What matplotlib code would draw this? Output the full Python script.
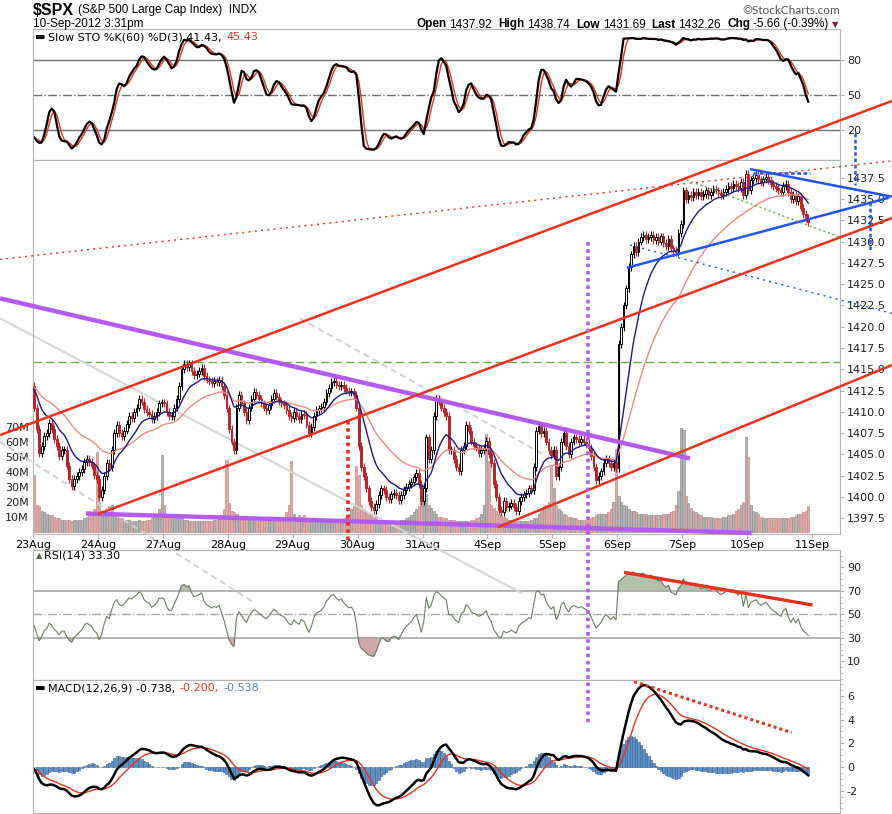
import matplotlib
matplotlib.use("Agg")
import matplotlib.pyplot as plt
import numpy as np
import pandas as pd

W, H = 892, 814

day_labels = ["23Aug", "24Aug", "27Aug", "28Aug", "29Aug", "30Aug", "31Aug",
              "4Sep", "5Sep", "6Sep", "7Sep", "10Sep", "11Sep"]
prior_close = 1413.0

# 15 minute closes, one list per session
close_23aug = [1410.5, 1408.0, 1405.2, 1406.0, 1407.2, 1407.5, 1408.7, 1408.0, 1406.8, 1406.0, 1404.8, 1405.5, 1405.5,
               1403.7, 1402.1, 1401.3, 1402.1, 1402.5, 1402.9, 1403.3, 1404.1, 1404.5, 1404.1, 1403.7, 1402.6, 1402.1]
close_24aug = [1400.0, 1400.8, 1402.5, 1404.0, 1403.5, 1405.5, 1407.5, 1408.5, 1407.5, 1407.2, 1407.8, 1408.6, 1409.5,
               1409.3, 1410.0, 1410.5, 1411.5, 1411.2, 1410.3, 1410.0, 1409.8, 1409.2, 1409.5, 1410.0, 1411.0, 1411.1]
close_27aug = [1411.0, 1410.0, 1409.5, 1409.5, 1410.5, 1411.5, 1413.0, 1415.0, 1415.6, 1415.3, 1415.6, 1414.8, 1414.3,
               1414.5, 1414.8, 1415.2, 1414.2, 1413.8, 1413.6, 1413.4, 1413.6, 1413.5, 1413.8, 1413.0, 1412.0, 1410.4]
close_28aug = [1408.0, 1406.5, 1405.5, 1410.5, 1412.0, 1411.0, 1410.0, 1409.0, 1410.5, 1411.5, 1412.3, 1412.0, 1411.5,
               1411.0, 1410.5, 1410.2, 1410.8, 1411.5, 1412.2, 1411.8, 1411.2, 1411.0, 1410.8, 1410.2, 1409.5, 1409.3]
close_29aug = [1410.0, 1409.5, 1409.2, 1409.8, 1409.6, 1408.5, 1407.5, 1408.2, 1409.5, 1410.2, 1410.4, 1410.6, 1411.2,
               1412.2, 1412.8, 1413.5, 1413.6, 1413.2, 1413.0, 1413.2, 1412.8, 1412.5, 1412.3, 1412.4, 1412.0, 1410.5]
close_30aug = [1406.0, 1403.5, 1402.5, 1401.0, 1399.5, 1398.8, 1398.5, 1399.2, 1400.2, 1401.0, 1400.8, 1400.0, 1399.8,
               1400.3, 1400.5, 1400.2, 1399.6, 1400.2, 1400.8, 1401.2, 1401.5, 1401.8, 1402.3, 1402.8, 1401.5, 1399.5]
close_31aug = [1401.0, 1407.0, 1404.5, 1405.5, 1409.5, 1411.5, 1411.2, 1410.5, 1410.0, 1409.5, 1405.5, 1405.5, 1404.5,
               1403.5, 1403.0, 1405.5, 1406.0, 1408.5, 1407.8, 1406.5, 1406.0, 1405.8, 1405.2, 1405.5, 1405.8, 1406.6]
close_4sep = [1405.0, 1404.0, 1401.5, 1400.0, 1398.5, 1398.2, 1399.5, 1398.8, 1399.0, 1399.3, 1398.8, 1398.3, 1399.5,
              1400.0, 1400.3, 1400.5, 1401.0, 1400.8, 1403.5, 1407.8, 1408.3, 1407.5, 1407.8, 1406.5, 1405.5, 1404.9]
close_5sep = [1405.5, 1402.5, 1403.5, 1406.5, 1407.5, 1406.0, 1405.0, 1406.5, 1407.0, 1406.8, 1406.5, 1406.8, 1406.5,
              1406.2, 1405.8, 1404.8, 1403.5, 1402.0, 1402.5, 1403.0, 1404.0, 1404.5, 1404.0, 1403.5, 1404.0, 1403.4]
close_6sep = [1418.0, 1420.0, 1422.5, 1424.5, 1427.0, 1428.5, 1429.5, 1428.8, 1430.0, 1430.5, 1430.8, 1430.3, 1430.5,
              1430.8, 1430.2, 1430.5, 1430.0, 1430.6, 1429.8, 1429.5, 1430.3, 1429.2, 1429.0, 1428.8, 1431.0, 1432.1]
close_7sep = [1436.0, 1435.0, 1435.5, 1435.2, 1435.8, 1435.5, 1435.8, 1435.3, 1435.6, 1436.0, 1435.5, 1435.8, 1436.2,
              1436.0, 1435.7, 1435.5, 1435.8, 1436.2, 1436.5, 1436.3, 1436.8, 1436.5, 1436.3, 1437.0, 1435.5, 1437.9]
close_10sep = [1436.0, 1437.2, 1437.5, 1437.8, 1437.3, 1437.0, 1437.3, 1437.6, 1437.2, 1436.8, 1436.5, 1436.3, 1436.0,
               1435.8, 1436.5, 1436.8, 1435.8, 1435.0, 1435.5, 1434.8, 1435.3, 1434.0, 1433.2, 1432.8, 1432.26]

# volume per bar, millions
vol_23aug = [38, 18, 17, 14, 13, 12, 11, 11, 10, 9, 9, 8, 8, 8, 8, 7, 8, 8, 8, 8, 9, 10, 11, 13, 15, 53]
vol_24aug = [20, 14, 13, 12, 17, 18, 12, 10, 9, 9, 8, 8, 8, 7, 7, 7, 8, 7, 7, 8, 8, 9, 10, 12, 15, 51]
vol_27aug = [18, 11, 10, 10, 12, 10, 9, 9, 8, 8, 7, 7, 7, 7, 7, 7, 7, 7, 7, 7, 8, 8, 9, 11, 15, 48]
vol_28aug = [19, 14, 13, 12, 10, 9, 9, 9, 8, 8, 8, 7, 7, 7, 7, 7, 7, 7, 7, 8, 8, 9, 10, 13, 18, 47]
vol_29aug = [12, 10, 11, 10, 11, 9, 9, 8, 8, 7, 7, 7, 7, 7, 7, 7, 7, 7, 8, 8, 9, 10, 12, 15, 17, 44]
vol_30aug = [38, 18, 15, 14, 12, 11, 10, 9, 8, 8, 7, 7, 7, 7, 7, 7, 7, 8, 8, 9, 10, 11, 13, 15, 17, 22]
vol_31aug = [27, 25, 18, 16, 14, 12, 10, 10, 9, 9, 8, 8, 8, 7, 7, 7, 7, 7, 7, 8, 8, 9, 10, 12, 18, 65]
vol_4sep = [47, 18, 16, 14, 12, 11, 10, 9, 8, 8, 7, 7, 7, 7, 7, 7, 7, 8, 9, 9, 12, 15, 17, 18, 20, 44]
vol_5sep = [29, 18, 15, 14, 12, 11, 10, 10, 9, 9, 8, 8, 8, 8, 8, 9, 10, 11, 12, 12, 12, 12, 13, 15, 20, 55]
vol_6sep = [24, 20, 18, 17, 15, 14, 14, 13, 12, 12, 12, 12, 11, 11, 11, 11, 11, 11, 12, 12, 12, 13, 14, 18, 27, 69]
vol_7sep = [68, 24, 19, 16, 14, 13, 12, 11, 10, 10, 10, 10, 9, 9, 9, 9, 10, 10, 11, 11, 12, 14, 15, 18, 20, 63]
vol_10sep = [50, 18, 14, 13, 12, 10, 9, 9, 9, 9, 9, 9, 9, 9, 9, 9, 9, 10, 10, 11, 12, 12, 13, 14, 17]

closes = np.concatenate([close_23aug, close_24aug, close_27aug, close_28aug, close_29aug, close_30aug,
                         close_31aug, close_4sep, close_5sep, close_6sep, close_7sep, close_10sep])
volume = np.concatenate([vol_23aug, vol_24aug, vol_27aug, vol_28aug, vol_29aug, vol_30aug,
                         vol_31aug, vol_4sep, vol_5sep, vol_6sep, vol_7sep, vol_10sep])
n = len(closes)
x = np.arange(n)
opens = np.r_[prior_close, closes[:-1]]
wick = 0.45
highs = np.maximum(opens, closes) + wick
lows = np.minimum(opens, closes) - wick

# hand-drawn annotation lines, (bar, price) end points
purple_lines = [((-13.7, 1423.33), (262.6, 1404.53)), ((20.7, 1398.06), (287.3, 1395.78))]
red_channel = [((-13.7, 1407.27), (343.5, 1446.51)), ((25.5, 1398.0), (343.5, 1432.76)),
               ((185.7, 1396.45), (343.5, 1415.49))]
red_dotted = ((-13.7, 1427.91), (346.7, 1439.58))
red_vertical = ((125.8, 1408.9), (125.8, 1394.9))
purple_vertical = ((221.9, 1429.9), (221.9, 1373.4))
gray_solid = ((-13.7, 1420.98), (195.3, 1388.7))
gray_dashed = [((-13.7, 1406.48), (87.2, 1387.76)), ((106.4, 1420.98), (204.5, 1404.9))]
blue_solid = [((237.3, 1426.92), (342.3, 1435.15)), ((286.6, 1438.52), (343.5, 1435.27))]
blue_dotted = ((238.6, 1429.59), (343.5, 1421.57))
blue_dashed = [((288.0, 1438.02), (310.7, 1438.02)), ((328.7, 1442.75), (328.7, 1436.64)),
               ((334.7, 1434.68), (334.7, 1428.8))]
green_dotted = ((261.3, 1437.23), (324.0, 1430.38))
green_level = 1415.9
rsi_trend = ((236.2, 85.7), (311.7, 57.9))
macd_trend = ((240.2, 7.21), (303.3, 2.91))

# indicators
seeded = pd.Series(np.r_[prior_close, closes])


def ema(span):
    return seeded.ewm(span=span, adjust=False).mean().values[1:]


ema13 = ema(13)
ema34 = ema(34)
macd = ema(12) - ema(26)
signal = pd.Series(macd).ewm(span=9, adjust=False).mean().values
hist = macd - signal

avg_gain = avg_loss = 0.4
rsi = []
for d in np.diff(seeded.values):
    avg_gain = (avg_gain * 13 + max(d, 0)) / 14
    avg_loss = (avg_loss * 13 + max(-d, 0)) / 14
    rsi.append(100 - 100 / (1 + avg_gain / avg_loss))
rsi = np.array(rsi)

hh = pd.Series(highs).rolling(60, min_periods=1).max()
ll = pd.Series(lows).rolling(60, min_periods=1).min()
fast_k = 100 * (pd.Series(closes) - ll) / (hh - ll)
slow_k = fast_k.rolling(3, min_periods=1).mean()
slow_d = slow_k.rolling(3, min_periods=1).mean()

# figure
plt.rcParams['font.family'] = ['DejaVu Sans']
fig = plt.figure(figsize=(W / 100, H / 100), dpi=100)
XLIM = (-0.5, 322.7)
EDGE = '#b4b4b4'


def px_axes(top, bottom):
    return fig.add_axes([33 / W, 1 - bottom / H, 807 / W, (bottom - top) / H])


def style(a, ticks, labels, ylim):
    a.set_xlim(*XLIM)
    a.set_ylim(*ylim)
    for s in a.spines.values():
        s.set_color(EDGE)
    a.yaxis.tick_right()
    a.set_yticks(ticks, labels)
    a.tick_params(axis='y', direction='out', length=3, color=EDGE, labelcolor='#222222',
                  labelsize=8, pad=2)
    a.set_xticks([])


ax_sto = px_axes(29.3, 160)
ax_vol = px_axes(160, 534.3)
ax = px_axes(160, 534.3)
ax_rsi = px_axes(550, 680)
ax_macd = px_axes(680, 812.7)
ax_vol.set_zorder(4)
ax.set_zorder(5)
ax.set_facecolor('none')

# stochastics panel
style(ax_sto, [20, 50, 80], ['20', '50', '80'], (-5.97, 106.06))
ax_sto.axhline(80, color='#707070', lw=1)
ax_sto.axhline(20, color='#707070', lw=1)
ax_sto.axhline(50, color='#707070', lw=1, ls='-.')
ax_sto.plot(x, slow_d, color='#e8321e', lw=1.0)
ax_sto.plot(x, slow_k, color='black', lw=1.6)

# volume
vol_up = np.r_[closes[0] >= prior_close, closes[1:] >= closes[:-1]]
ax_vol.bar(x, volume, width=0.85, color=np.where(vol_up, '#b4b4b4', '#deaaaa'),
           edgecolor=np.where(vol_up, '#8f8f8f', '#c88a8a'), lw=0.5)
ax_vol.set_xlim(*XLIM)
ax_vol.set_ylim(-1.7, 247.8)
ax_vol.set_xticks([])
ax_vol.set_yticks(np.arange(10, 80, 10), [f'{v}M' for v in range(10, 80, 10)])
ax_vol.tick_params(axis='y', length=0, labelsize=8, labelcolor='#222222', pad=3)
for s in ax_vol.spines.values():
    s.set_visible(False)

# price panel
price_ticks = np.arange(1397.5, 1438.0, 2.5)
style(ax, price_ticks, [f'{p:.1f}' for p in price_ticks], (1395.62, 1439.58))
ax.set_xticks(26 * np.arange(13) - 0.5, day_labels)
ax.tick_params(axis='x', direction='out', length=3, color=EDGE, labelsize=8, pad=1)
ax.axhline(green_level, color='#6aaa45', lw=1, dashes=(6, 3))

up = closes >= opens
ax.vlines(x, lows, highs, color=np.where(up, 'black', '#b8262a'), lw=0.8, zorder=3)
ax.bar(x, np.maximum(np.abs(closes - opens), 0.08), bottom=np.minimum(opens, closes), width=0.7,
       color=np.where(up, 'white', '#b8262a'), edgecolor=np.where(up, 'black', '#b8262a'),
       lw=0.7, zorder=4)
ax.plot(x, ema34, color='#ec8a80', lw=1.0, zorder=5)
ax.plot(x, ema13, color='#1a1a8a', lw=1.0, zorder=5)


def seg(a, pts, **kw):
    (x0, y0), (x1, y1) = pts
    a.plot([x0, x1], [y0, y1], clip_on=False, solid_capstyle='butt', **kw)


seg(ax, gray_solid, color='#d6d6d6', lw=1.5, zorder=2)
for g in gray_dashed:
    seg(ax, g, color='#d2d2d2', lw=1.5, dashes=(3, 2), zorder=2)
for pl in purple_lines:
    seg(ax, pl, color='#b45af2', lw=3.2, zorder=6)
for rl in red_channel:
    seg(ax, rl, color='#e8321e', lw=1.8, zorder=6)
seg(ax, red_dotted, color='#e8321e', lw=1.0, ls=(0, (1.5, 3)), zorder=6)
seg(ax, red_vertical, color='#e8321e', lw=2.6, ls=(0, (1, 1)), zorder=6)
seg(ax, purple_vertical, color='#b45af2', lw=2.6, ls=(0, (1, 1)), zorder=6)
for bl in blue_solid:
    seg(ax, bl, color='#2255ee', lw=1.8, zorder=6)
seg(ax, blue_dotted, color='#2255ee', lw=1.0, ls=(0, (1.5, 3)), zorder=6)
for bd in blue_dashed:
    seg(ax, bd, color='#2255ee', lw=1.8, ls=(0, (1.5, 1)), zorder=6)
seg(ax, green_dotted, color='#6aaa45', lw=1.0, ls=(0, (1.5, 2)), zorder=6)

# RSI panel
style(ax_rsi, [10, 30, 50, 70, 90], ['10', '30', '50', '70', '90'], (-5.9, 104.7))
ax_rsi.axhline(70, color='#a8a8a8', lw=1.2)
ax_rsi.axhline(30, color='#a8a8a8', lw=1.2)
ax_rsi.axhline(50, color='#a8a8a8', lw=1, ls='-.')
ax_rsi.fill_between(x, rsi, 70, where=rsi > 70, interpolate=True, color='#b4c2ac')
ax_rsi.fill_between(x, rsi, 30, where=rsi < 30, interpolate=True, color='#cfa9a9')
ax_rsi.plot(x, rsi, color='#6b7f63', lw=0.8)
seg(ax_rsi, rsi_trend, color='#e8321e', lw=2.4)

# MACD panel
style(ax_macd, [-2, 0, 2, 4, 6], ['-2', '0', '2', '4', '6'], (-3.86, 7.35))
ax_macd.bar(x, hist, width=0.85, color='#5f92c8', edgecolor='#2f5f94', lw=0.4)
ax_macd.plot(x, signal, color='#e8321e', lw=1.0)
ax_macd.plot(x, macd, color='black', lw=1.8)
seg(ax_macd, macd_trend, color='#e8321e', lw=2.2, ls=(0, (1, 1)))
for a in (ax_rsi, ax_macd):
    a.minorticks_on()
    a.tick_params(axis='y', which='minor', direction='out', length=2, color=EDGE)
    a.tick_params(axis='x', which='both', bottom=False, labelbottom=False)

# texts
renderer = fig.canvas.get_renderer()


def text_run(x_px, y_px, parts, align='left'):
    items = []
    for s, gap, kw in parts:
        t = fig.text(0, 1 - y_px / H, s, va='center', ha='left', **kw)
        items.append((t, t.get_window_extent(renderer).width + gap))
    pos = x_px - sum(w for _, w in items) if align == 'right' else x_px
    for t, w in items:
        t.set_x(pos / W)
        pos += w


hdr = dict(family=['Liberation Sans', 'DejaVu Sans'], color='black')
text_run(33, 10.5, [('$SPX', 4, dict(size=11.5, weight='bold', **hdr)),
                    ('(S&P 500 Large Cap Index)  INDX', 0, dict(size=8.5, **hdr))])
fig.text(33 / W, 1 - 24.5 / H, '10-Sep-2012 3:31pm', size=8.5, va='center', ha='left', **hdr)
fig.text(840 / W, 1 - 10 / H, '\u00a9StockCharts.com', size=8.5, va='center', ha='right',
         family=['Lato', 'DejaVu Sans'], color='#555555')
b = dict(size=8.5, weight='bold', **hdr)
r = dict(size=8.5, **hdr)
text_run(838, 24.5, [('Open', 3, b), ('1437.92', 6, r), ('High', 3, b), ('1438.74', 6, r),
                     ('Low', 3, b), ('1431.69', 6, r), ('Last', 3, b), ('1432.26', 6, r),
                     ('Chg', 3, b), ('-5.66 (-0.39%)', 3, r),
                     ('\u25bc', 0, dict(size=6, color='#8b1c2c'))], align='right')

leg = dict(size=8)
text_run(35, 37.3, [('\u25ac', 3, dict(size=8, color='black')),
                    ('Slow STO %K(60) %D(3) 41.43,', 4, dict(color='black', **leg)),
                    ('45.43', 0, dict(color='#e8321e', **leg))])
text_run(36, 167.7, [('\u2590\u258c', 2, dict(size=6, color='#333333')),
                     ('$SPX (15 min) 1432.26', 0, dict(size=8.5, color='black'))])
text_run(35, 178.3, [('\u25ac', 3, dict(size=8, color='#1a1a8a')),
                     ('EMA(13) 1434.39', 0, dict(size=8, color='#1a1a8a'))])
text_run(35, 189, [('\u25ac', 3, dict(size=8, color='#e8321e')),
                   ('EMA(34) 1434.83', 0, dict(size=8, color='#e8321e'))])
text_run(36, 199.3, [('\u2583\u2585', 1, dict(size=6, color='#707070')),
                     ('Volume 1,946,670', 0, dict(size=8, color='#555555'))])
text_run(36, 556, [('\u25b2', 2, dict(size=6, color='#52634d')),
                   ('RSI(14) 33.30', 0, dict(size=8, color='black'))])
text_run(35, 688.3, [('\u25ac', 3, dict(size=8, color='black')),
                     ('MACD(12,26,9) -0.738,', 4, dict(size=8, color='black')),
                     ('-0.200,', 4, dict(size=8, color='#e8321e')),
                     ('-0.538', 0, dict(size=8, color='#4f86c0'))])

fig.savefig('out.png', dpi=100)
